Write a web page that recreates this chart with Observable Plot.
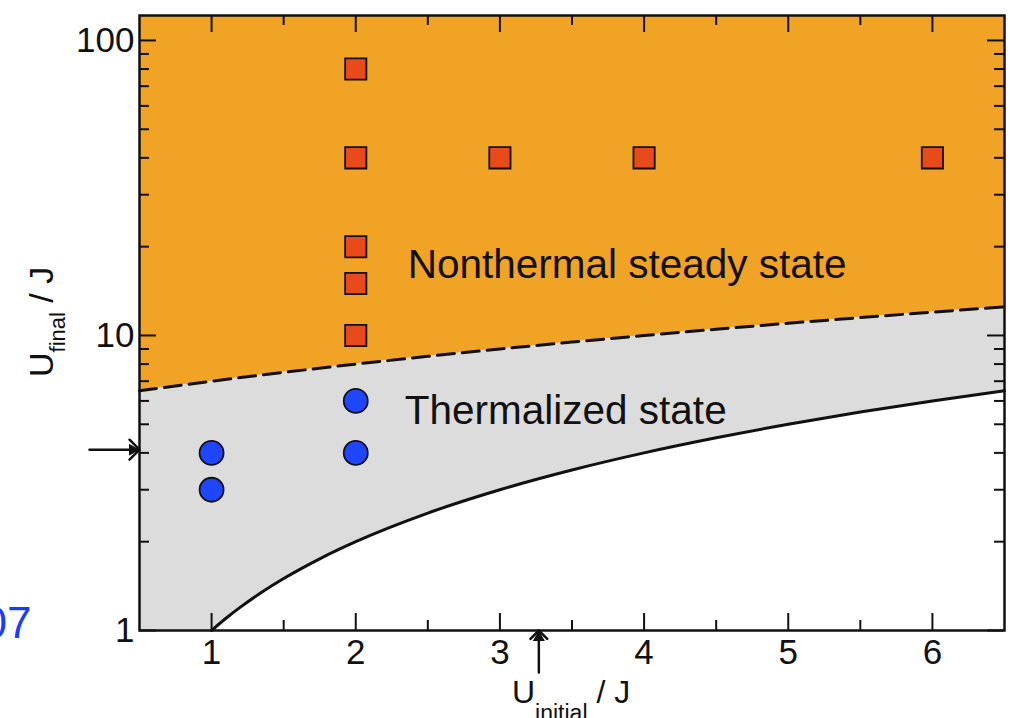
<!DOCTYPE html>
<html>
<head>
<meta charset="utf-8">
<script src="https://cdn.jsdelivr.net/npm/d3@7"></script>
<script src="https://cdn.jsdelivr.net/npm/@observablehq/plot@0.6"></script>
<style>
  html, body { margin: 0; padding: 0; background: #fff; }
  #chart { width: 1022px; height: 718px; overflow: hidden; }
</style>
</head>
<body>
<div id="chart"></div>
<script>
// ---- data ----
const xDomain = [0.5, 6.5];
const yDomain = [1, 121.5];

// boundary between the thermalized and nonthermal regions (dashed)
const dashedX = [0.5, 1, 1.5, 2, 2.5, 3, 3.5, 4, 4.5, 5, 5.5, 6, 6.5];
const dashedY = [6.5, 7, 7.5, 8, 8.5, 9, 9.5, 10, 10.5, 11, 11.5, 12, 12.5];

// lower boundary of the thermalized region (solid line, starting at U=1)
const solidX = [1, 1.1, 1.2, 1.35, 1.5, 1.75, 2, 2.5, 3, 3.5, 4, 4.5, 5, 5.5, 6, 6.5];
const solidY = [1, 1.1, 1.2, 1.35, 1.5, 1.75, 2, 2.5, 3, 3.5, 4, 4.5, 5, 5.5, 6, 6.5];

// gray region lower edge (frame bottom left of U=1, then solid line)
const grayX = [0.5, 1, 1.1, 1.2, 1.35, 1.5, 1.75, 2, 2.5, 3, 3.5, 4, 4.5, 5, 5.5, 6, 6.5];
const grayLow = [1, 1, 1.1, 1.2, 1.35, 1.5, 1.75, 2, 2.5, 3, 3.5, 4, 4.5, 5, 5.5, 6, 6.5];
const grayHigh = [6.5, 7, 7.1, 7.2, 7.35, 7.5, 7.75, 8, 8.5, 9, 9.5, 10, 10.5, 11, 11.5, 12, 12.5];

// nonthermal simulations (squares)
const nonthermalUi = [2, 2, 3, 4, 6, 2, 2, 2];
const nonthermalUf = [80, 40, 40, 40, 40, 20, 15, 10];

// thermalized simulations (circles)
const thermalUi = [1, 1, 2, 2];
const thermalUf = [4, 3, 6, 4];

// region labels
const labelText = ["Nonthermal steady state", "Thermalized state"];
const labelX = [2.36, 2.34];
const labelY = [17.3, 5.55];

// arrows marking thresholds
const arrowUinitial = [3.27];
const arrowUfinal = [4.1];

// ticks
const xMajor = [1, 2, 3, 4, 5, 6];
const xMinor = [1.5, 2.5, 3.5, 4.5, 5.5];
const yMajor = [1, 10, 100];
const yMinor = [2, 3, 4, 5, 6, 7, 8, 9, 20, 30, 40, 50, 60, 70, 80, 90];

// ---- build tables ----
const dashed = dashedX.map((x, i) => ({x, y: dashedY[i]}));
const solid = solidX.map((x, i) => ({x, y: solidY[i]}));
const gray = grayX.map((x, i) => ({x, lo: grayLow[i], hi: grayHigh[i]}));
const squares = nonthermalUi.map((x, i) => ({x, y: nonthermalUf[i]}));
const circles = thermalUi.map((x, i) => ({x, y: thermalUf[i]}));
const labels = labelText.map((t, i) => ({t, x: labelX[i], y: labelY[i]}));

const W = 1022, H = 718;
const mL = 139, mR = 18, mT = 15, mB = 88;
const plotW = W - mL - mR, plotH = H - mT - mB;
const majorLen = 17, minorLen = 10;
const font = "'Liberation Sans', Arial, Helvetica, sans-serif";
const black = "#111";

const chart = Plot.plot({
  width: W,
  height: H,
  marginLeft: mL,
  marginRight: mR,
  marginTop: mT,
  marginBottom: mB,
  style: {fontFamily: font, background: "#fff", color: black},
  x: {domain: xDomain, axis: null},
  y: {type: "log", domain: yDomain, axis: null},
  marks: [
    // orange region (above dashed line)
    Plot.areaY(dashed, {x: "x", y1: "y", y2: yDomain[1], fill: "#f0a324", curve: "linear"}),
    // gray region
    Plot.areaY(gray, {x: "x", y1: "lo", y2: "hi", fill: "#dcdcdc", curve: "linear"}),
    // boundaries
    Plot.line(dashed, {x: "x", y: "y", stroke: black, strokeWidth: 3, strokeDasharray: "17,8"}),
    Plot.line(solid, {x: "x", y: "y", stroke: black, strokeWidth: 3, curve: "monotone-x"}),
    // inward ticks: left/right
    Plot.ruleY(yMajor, {insetRight: plotW - majorLen, stroke: black, strokeWidth: 2}),
    Plot.ruleY(yMinor, {insetRight: plotW - minorLen, stroke: black, strokeWidth: 2}),
    Plot.ruleY(yMajor, {insetLeft: plotW - majorLen, stroke: black, strokeWidth: 2}),
    Plot.ruleY(yMinor, {insetLeft: plotW - minorLen, stroke: black, strokeWidth: 2}),
    // inward ticks: bottom/top
    Plot.ruleX(xMajor, {insetTop: plotH - majorLen, stroke: black, strokeWidth: 2}),
    Plot.ruleX(xMinor, {insetTop: plotH - minorLen, stroke: black, strokeWidth: 2}),
    Plot.ruleX(xMajor, {insetBottom: plotH - majorLen, stroke: black, strokeWidth: 2}),
    Plot.ruleX(xMinor, {insetBottom: plotH - minorLen, stroke: black, strokeWidth: 2}),
    // tick labels
    Plot.axisX({ticks: xMajor, tickSize: 0, tickPadding: 9, fontSize: 35, tickFormat: d => String(d), label: null}),
    Plot.axisY({ticks: yMajor, tickSize: 0, tickPadding: 5, fontSize: 35, tickFormat: d => String(d), label: null}),
    // frame
    Plot.frame({stroke: black, strokeWidth: 2.5}),
    // simulations
    Plot.dot(squares, {x: "x", y: "y", symbol: "square", r: 12, fill: "#e84a1a", stroke: black, strokeWidth: 1.8}),
    Plot.dot(circles, {x: "x", y: "y", symbol: "circle", r: 12, fill: "#1e46ff", stroke: black, strokeWidth: 1.8}),
    // region labels
    Plot.text(labels, {x: "x", y: "y", text: "t", textAnchor: "start", lineAnchor: "middle", fontSize: 40.5, fill: black}),
    // threshold arrows (shaft + filled head)
    Plot.vector(arrowUinitial, {x: d => d, y: yDomain[0], rotate: 0, anchor: "end", length: 42, stroke: black, strokeWidth: 2.5}),
    Plot.vector(arrowUfinal, {x: xDomain[0], y: d => d, rotate: 90, anchor: "end", length: 50, stroke: black, strokeWidth: 2.5}),
    Plot.dot(arrowUinitial, {x: d => d, y: yDomain[0], symbol: "triangle", r: 4.5, dy: 7, fill: black, stroke: null}),
    Plot.dot(arrowUfinal, {x: xDomain[0], y: d => d, symbol: "triangle", r: 4.5, rotate: 90, dx: -7, fill: black, stroke: null}),
    // cropped leftover text at the left edge
    Plot.text(["07"], {frameAnchor: "bottom-left", dx: -108, dy: -7, textAnchor: "end", lineAnchor: "middle", fontSize: 44, fill: "#1a3cff"})
  ]
});

// axis titles with subscripts
const svg = d3.select(chart);
const xt = svg.append("text")
  .attr("x", 512).attr("y", 703).attr("text-anchor", "start")
  .attr("font-family", font).attr("font-size", 32).attr("fill", black);
xt.append("tspan").text("U");
xt.append("tspan").attr("font-size", 23).attr("dy", 18).text("initial");
xt.append("tspan").attr("dy", -18).text(" / J");

const yt = svg.append("text")
  .attr("transform", "translate(53,377) rotate(-90)").attr("text-anchor", "start")
  .attr("font-family", font).attr("font-size", 34).attr("fill", black);
yt.append("tspan").text("U");
yt.append("tspan").attr("font-size", 22).attr("dy", 12).text("final");
yt.append("tspan").attr("dy", -12).text(" / J");

document.getElementById("chart").appendChild(chart);
</script>
</body>
</html>
